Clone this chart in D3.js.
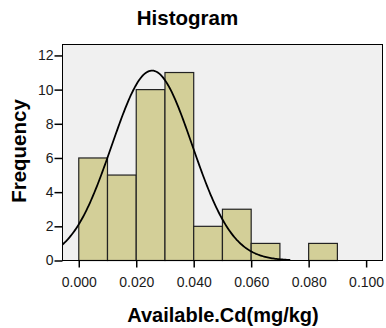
<!DOCTYPE html>
<html><head><meta charset="utf-8">
<script src="https://cdn.jsdelivr.net/npm/d3@7"></script>
<style>body{margin:0;background:#fff}svg{display:block}</style>
</head><body>
<script>
const binStarts = [0.00,0.01,0.02,0.03,0.04,0.05,0.06,0.07,0.08];
const binWidth = 0.01;
const counts = [6,5,10,11,2,3,1,0,1];
const xTicks = [0.000,0.020,0.040,0.060,0.080,0.100];
const yTicks = [0,2,4,6,8,10,12];
const curveMean = 0.0255, curveSD = 0.0140, curveN = 39, curveEnd = 0.0736;

const W=386,H=328;
const svg=d3.select("body").append("svg").attr("width",W).attr("height",H);
const L=62.5,R=382.5,T=44.5,B=260.5;
const x=d3.scaleLinear().domain([-0.00566,0.1057]).range([L,R]);
const y=d3.scaleLinear().domain([0,12.64]).range([B,T]);

svg.append("rect").attr("x",L).attr("y",T).attr("width",R-L).attr("height",B-T).attr("fill","#f0f0f0");

const data=binStarts.map((s,i)=>({s,c:counts[i]})).filter(d=>d.c>0);
svg.selectAll("rect.bar").data(data).enter().append("rect").attr("class","bar")
 .attr("x",d=>x(d.s)).attr("width",d=>x(d.s+binWidth)-x(d.s))
 .attr("y",d=>y(d.c)).attr("height",d=>y(0)-y(d.c))
 .attr("fill","#d3cf98").attr("stroke","#222").attr("stroke-width",1.2);

const pts=d3.range(0,201).map(i=>{const v=x.domain()[0]+(curveEnd-x.domain()[0])*i/200;
 return [v, curveN*binWidth/(curveSD*Math.sqrt(2*Math.PI))*Math.exp(-((v-curveMean)**2)/(2*curveSD*curveSD))];});
svg.append("path").attr("d",d3.line().x(d=>x(d[0])).y(d=>y(d[1]))(pts))
 .attr("fill","none").attr("stroke","#000").attr("stroke-width",1.8);

svg.append("rect").attr("x",L).attr("y",T).attr("width",R-L).attr("height",B-T).attr("fill","none").attr("stroke","#000").attr("stroke-width",1);

const xa=svg.append("g").attr("transform",`translate(0,${B})`)
 .call(d3.axisBottom(x).tickValues(xTicks).tickFormat(d3.format(".3f")).tickSize(7).tickPadding(10));
const ya=svg.append("g").attr("transform",`translate(${L},0)`)
 .call(d3.axisLeft(y).tickValues(yTicks).tickSize(8).tickPadding(1));
[xa,ya].forEach(a=>{a.select(".domain").remove();
 a.selectAll("line").attr("stroke","#000").attr("stroke-width",1.5);
 a.selectAll("text").attr("font-family","Liberation Sans, Arial, sans-serif").attr("font-size",14).attr("fill","#1a1a1a");});

const bf="Liberation Sans, Arial, sans-serif";
svg.append("text").attr("x",187.5).attr("y",25).attr("text-anchor","middle").attr("font-family",bf).attr("font-weight","bold").attr("font-size",20.5).text("Histogram");
svg.append("text").attr("x",223).attr("y",322).attr("text-anchor","middle").attr("font-family",bf).attr("font-weight","bold").attr("font-size",20).text("Available.Cd(mg/kg)");
svg.append("text").attr("transform","translate(26,151) rotate(-90)").attr("text-anchor","middle").attr("font-family",bf).attr("font-weight","bold").attr("font-size",20.5).text("Frequency");
</script>
</body></html>
